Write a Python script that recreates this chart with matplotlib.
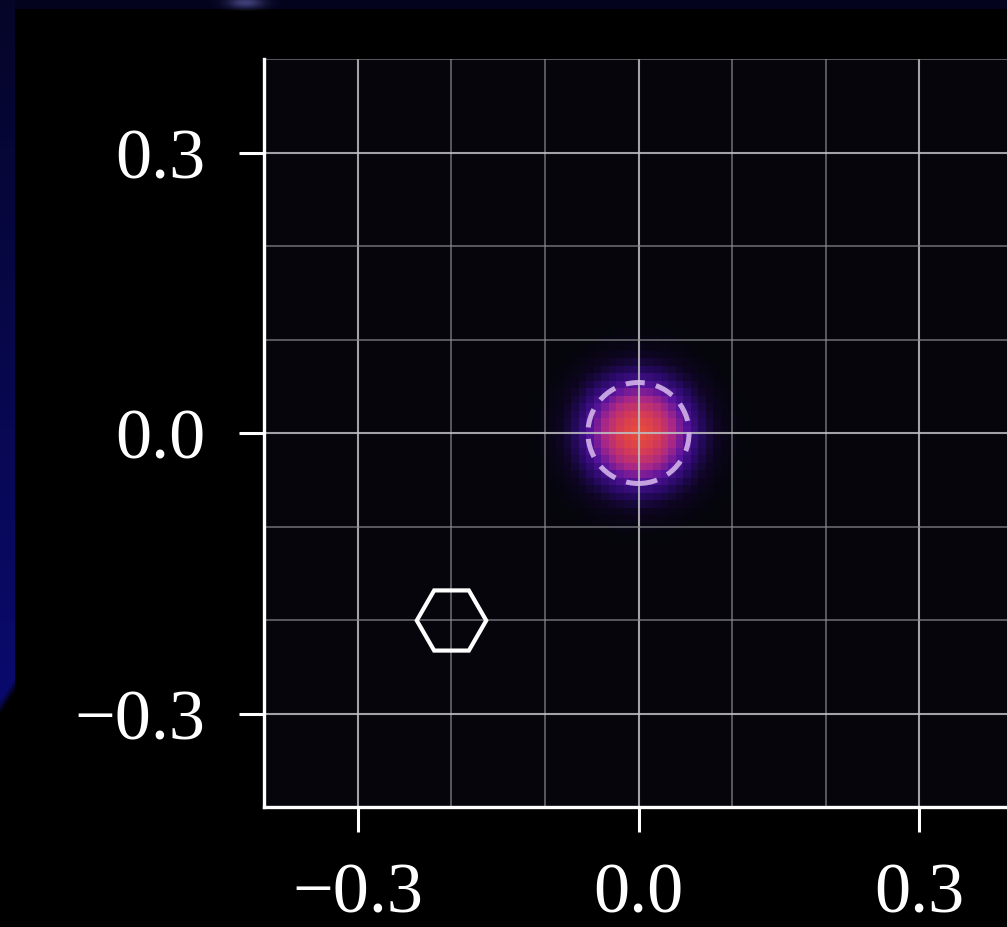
import numpy as np
import matplotlib
matplotlib.use("Agg")
import matplotlib.pyplot as plt
from matplotlib.colors import LinearSegmentedColormap
from matplotlib.patches import Circle

# ---- data ----
x_limits = [-0.4, 0.4]
y_limits = [-0.4, 0.4]
major_ticks = [-0.3, 0.0, 0.3]
tick_labels = ["\u22120.3", "0.0", "0.3"]
grid_step = 0.1
grid_cells = 100

source_x = [0.0]
source_y = [0.0]
source_amp = [0.95]
source_width = [0.036]

ring_center = (0.0, 0.0)
ring_radius = 0.054

hex_x = [-0.2]
hex_y = [-0.2]

# ---- figure ----
W, H, DPI = 1007, 928, 100
fig = plt.figure(figsize=(W / DPI, H / DPI), dpi=DPI, facecolor="black")

# decorative navy frame (cropped-figure edges)
bg = fig.add_axes([0, 0, 1, 1], zorder=-10)
bg.set_axis_off()
img = np.zeros((H, W, 3))
rows = np.arange(H)[:, None]
cols = np.arange(W)[None, :]
top = (rows < 10)[:, 0]
img[top, :, :] = np.array([3, 3, 30]) / 255
spot = np.exp(-(((cols - 245) / 18.0) ** 2 + ((rows - 3) / 6.0) ** 2))
img += (spot * (rows < 12))[..., None] * np.array([60, 60, 90]) / 255
t = np.clip(rows / 700.0, 0, 1)
left_col = np.array([5, 5, 40]) / 255 * (1 - t) + np.array([10, 10, 110]) / 255 * t
fade = np.clip((715 - rows - cols * 1.5) / 15.0, 0, 1)
left_mask = (cols < 15) * fade
img = img * (1 - left_mask[..., None]) + left_col[:, None, :] * left_mask[..., None]
img = np.clip(img, 0, 1)
bg.imshow(img, aspect="auto", extent=[0, 1, 0, 1])
bg.set_xlim(0, 1)
bg.set_ylim(0, 1)

# main axes (right edge extends past the figure)
ax_w = 749 / W
ax_h = 748 / H
ax = fig.add_axes([264 / W, 120 / H, ax_w, ax_h], facecolor="#05050b")

# density field
edges = np.linspace(x_limits[0], x_limits[1], grid_cells + 1)
centers = 0.5 * (edges[:-1] + edges[1:])
XX, YY = np.meshgrid(centers, centers)
field = np.zeros_like(XX)
for sx, sy, a, w in zip(source_x, source_y, source_amp, source_width):
    field += a * np.exp(-((XX - sx) ** 2 + (YY - sy) ** 2) / (2 * w ** 2))

cmap = LinearSegmentedColormap.from_list(
    "glow",
    [(0.0, "#05050b"), (0.06, "#0e0622"), (0.18, "#2a0a6a"), (0.35, "#5a14a0"),
     (0.55, "#a82888"), (0.78, "#d23a58"), (1.0, "#ee5036")])
ax.imshow(field, extent=[x_limits[0], x_limits[1], y_limits[0], y_limits[1]],
          origin="lower", cmap=cmap, vmin=0, vmax=1, interpolation="nearest",
          zorder=0)

ax.set_xlim(x_limits)
ax.set_ylim(y_limits)
ax.set_aspect("auto")

# grid
minor = np.arange(x_limits[0], x_limits[1] + 1e-9, grid_step)
ax.set_xticks(minor, minor=True)
ax.set_yticks(minor, minor=True)
ax.set_xticks(major_ticks)
ax.set_yticks(major_ticks)
ax.set_xticklabels(tick_labels)
ax.set_yticklabels(tick_labels)
ax.grid(which="minor", color="#8a8a90", linewidth=1.1, alpha=0.8, zorder=1)
ax.grid(which="major", color="#c0c0c4", linewidth=1.5, alpha=0.85, zorder=1)
ax.set_axisbelow(False)

ax.tick_params(which="minor", length=0)
ax.tick_params(which="major", length=18, width=2.2, color="white",
               labelcolor="white", labelsize=52, pad=24)
ax.tick_params(axis="x", which="major", pad=21)
for lab in ax.get_xticklabels() + ax.get_yticklabels():
    lab.set_family(["Liberation Serif", "DejaVu Serif"])

for s in ["top", "right"]:
    ax.spines[s].set_visible(False)
for s in ["left", "bottom"]:
    ax.spines[s].set_color("white")
    ax.spines[s].set_linewidth(2.4)
    ax.spines[s].set_zorder(5)

# dashed ring
ring = Circle(ring_center, ring_radius, fill=False, edgecolor="#d6b8ec",
              linewidth=3.6, linestyle=(0, (3.8, 2.3)), alpha=0.88, zorder=4)
ax.add_patch(ring)

# hexagon marker
ax.plot(hex_x, hex_y, linestyle="none", marker="H", markersize=50,
        markerfacecolor="none", markeredgecolor="white", markeredgewidth=3.0,
        zorder=4)

fig.savefig("out.png", dpi=DPI, facecolor="black")
